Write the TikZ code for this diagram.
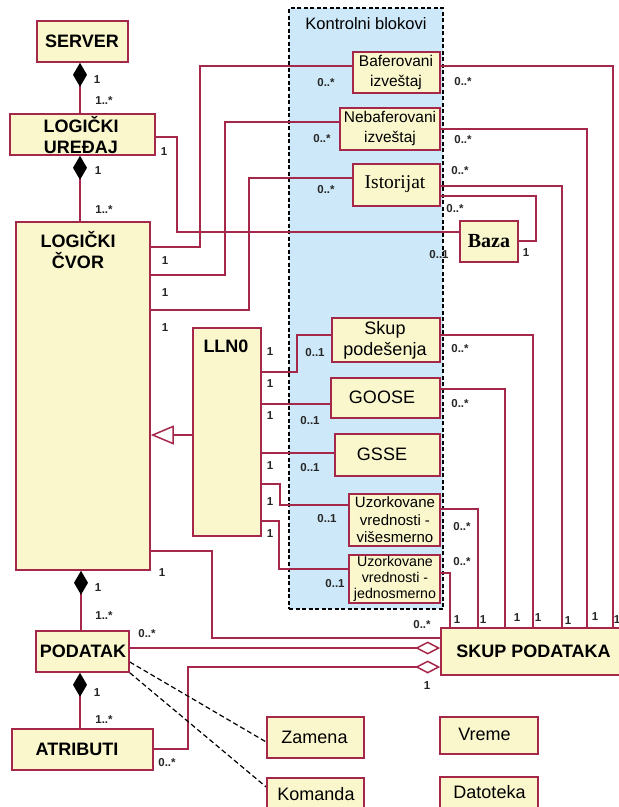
\documentclass[tikz,border=0pt]{standalone}
\usepackage{fontspec}
\setmainfont{Liberation Sans}
\newfontfamily\serifA{Liberation Serif}
\usetikzlibrary{arrows.meta,fit,backgrounds}
\definecolor{boxfill}{RGB}{250,247,205}
\definecolor{bord}{RGB}{165,40,75}
\definecolor{kbfill}{RGB}{205,232,248}
\tikzset{
  box/.style={draw=bord, fill=boxfill, line width=1.6pt, inner sep=0pt, align=center},
  kbox/.style={draw=black, fill=kbfill, line width=1.4pt, dash pattern=on 4pt off 2.5pt, inner sep=0pt},
  conn/.style={draw=bord, line width=1.5pt},
  dep/.style={draw=black, line width=1.2pt, dash pattern=on 5pt off 3pt},
  mult/.style={font=\fontsize{11.5}{12}\selectfont\bfseries, inner sep=0pt, text=black!85},
  big/.style={font=\fontsize{18}{21.5}\selectfont\bfseries},
  med/.style={font=\fontsize{18}{21}\selectfont},
  smalltxt/.style={font=\fontsize{15.5}{19.5}\selectfont},
  comp/.style={{Diamond[length=24pt,width=14pt,color=black,fill=black]}-},
  aggr/.style={-{Diamond[open,length=25pt,width=13pt,fill=white]}},
  gen/.style={-{Triangle[open,length=23pt,width=19pt,fill=white]}},
}
\begin{document}
\begin{tikzpicture}[x=1pt,y=-1pt]
\useasboundingbox (0,0) rectangle (619,807);
\clip (0,0) rectangle (619,807);
\begin{scope}[on background layer]
\fill[white] (0,0) rectangle (619,807);
\end{scope}

% ---------- boxes ----------
\node[box, big, fit={(37,21) (128,62)}] (server) {};
\node[big, inner sep=0pt] (tserver) at (82,41) {SERVER};
\node[box, fit={(10,114) (155,155)}] (ured) {};
\node[big, inner sep=0pt, align=center] (tured) at (81,135) {LOGIČKI\\UREĐAJ};
\node[box, fit={(16,222) (150,570)}] (cvor) {};
\node[big, inner sep=0pt, align=center] (tcvor) at (78,250) {LOGIČKI\\ČVOR};
\node[box, fit={(193,328) (261,536)}] (lln) {};
\node[big, inner sep=0pt] (tlln) at (226,346) {LLN0};

\begin{scope}[on background layer]
\node[kbox, fit={(289,8) (443,609)}] (kb) {};
\end{scope}
\node[font=\fontsize{16.5}{18}\selectfont, inner sep=0pt] (tkb) at (366,24) {Kontrolni blokovi};

\node[box, fit={(353,52) (440,93)}] (bafer) {};
\node[smalltxt, inner sep=0pt, align=center] (tbafer) at (396,72.5) {Baferovani\\izveštaj};
\node[box, fit={(340,108) (440,150)}] (nebafer) {};
\node[smalltxt, inner sep=0pt, align=center] (tnebafer) at (390,128.5) {Nebaferovani\\izveštaj};
\node[box, fit={(353,164) (440,206)}] (istor) {};
\node[font=\serifA\fontsize{19.5}{22}\selectfont, inner sep=0pt] (tistor) at (395,184) {Istorijat};
\node[box, fit={(460,221) (518,262)}] (baza) {};
\node[font=\serifA\fontsize{20}{22}\selectfont\bfseries, inner sep=0pt] (tbaza) at (489,241) {Baza};

\node[box, fit={(332,318) (440,362)}] (skup) {};
\node[font=\fontsize{18}{21}\selectfont, inner sep=0pt, align=center] (tskup) at (385,340) {Skup\\podešenja};
\node[box, fit={(331,378) (440,418)}] (goose) {};
\node[med, inner sep=0pt] (tgoose) at (382,397) {GOOSE};
\node[box, fit={(335,434) (440,476)}] (gsse) {};
\node[med, inner sep=0pt] (tgsse) at (382,454) {GSSE};
\node[box, fit={(349,494) (440,546)}] (uvvis) {};
\node[font=\fontsize{15}{17.5}\selectfont, inner sep=0pt, align=center] (tuvvis) at (395,520) {Uzorkovane\\vrednosti -\\višesmerno};
\node[box, fit={(349,555) (440,603)}] (uvjed) {};
\node[font=\fontsize{14.2}{16}\selectfont, inner sep=0pt, align=center] (tuvjed) at (395,579) {Uzorkovane\\vrednosti -\\jednosmerno};

\node[box, fit={(441,628) (625,675)}] (skuppod) {};
\node[big, inner sep=0pt] (tskuppod) at (533.5,651) {SKUP PODATAKA};
\node[box, fit={(36,631) (129,672)}] (podatak) {};
\node[big, inner sep=0pt] (tpodatak) at (83,651) {PODATAK};
\node[box, fit={(12,729) (153,770)}] (atrib) {};
\node[big, inner sep=0pt] (tatrib) at (77,749) {ATRIBUTI};
\node[box, fit={(267,717) (364,758)}] (zamena) {};
\node[med, inner sep=0pt] (tzamena) at (314.5,737) {Zamena};
\node[box, fit={(267,778) (364,812)}] (komanda) {};
\node[med, inner sep=0pt] (tkomanda) at (316,794) {Komanda};
\node[box, fit={(440,717) (538,754)}] (vreme) {};
\node[med, inner sep=0pt] (tvreme) at (484.5,734) {Vreme};
\node[box, fit={(440,777) (538,812)}] (datoteka) {};
\node[med, inner sep=0pt] (tdatoteka) at (489.5,792) {Datoteka};

% ---------- connectors ----------
\begin{scope}[on background layer]
\draw[conn, comp] (server.south -| 80,0) -- (ured.north -| 80,0);
\draw[conn, comp] (ured.south -| 80,0) -- (cvor.north -| 80,0);
\draw[conn, comp] (cvor.south -| 81,0) -- (podatak.north -| 81,0);
\draw[conn, comp] (podatak.south -| 80,0) -- (atrib.north -| 80,0);
\draw[conn, gen] (lln.west |- 0,435) -- (cvor.east |- 0,435);

\draw[conn] (ured.east |- 0,137) -| (177,232) -- (baza.west |- 0,232);
\draw[conn] (cvor.east |- 0,247) -| (200,66) -- (bafer.west |- 0,66);
\draw[conn] (cvor.east |- 0,275) -| (225,122) -- (nebafer.west |- 0,122);
\draw[conn] (cvor.east |- 0,310) -| (249,178) -- (istor.west |- 0,178);

\draw[conn] (lln.east |- 0,372) -| (297,335) -- (skup.west |- 0,335);
\draw[conn] (lln.east |- 0,404) -- (goose.west |- 0,404);
\draw[conn] (lln.east |- 0,453) -- (gsse.west |- 0,453);
\draw[conn] (lln.east |- 0,484) -| (280,505) -- (uvvis.west |- 0,505);
\draw[conn] (lln.east |- 0,521) -| (279,569) -- (uvjed.west |- 0,569);

\draw[conn] (cvor.east |- 0,551) -| (212,638) -- (skuppod.west |- 0,638);
\draw[conn, aggr] (podatak.east |- 0,648) -- (skuppod.west |- 0,648);
\draw[conn, aggr] (atrib.east |- 0,749) -| (188,667) -- (skuppod.west |- 0,667);

\draw[dep] (podatak.east |- 0,662) -- (zamena.west |- 0,742);
\draw[dep] (podatak.south east) -- (komanda.west |- 0,787);

\draw[conn] (bafer.east |- 0,66) -| (skuppod.north -| 613,0);
\draw[conn] (nebafer.east |- 0,129) -| (skuppod.north -| 587,0);
\draw[conn] (istor.east |- 0,186) -| (skuppod.north -| 562,0);
\draw[conn] (istor.east |- 0,196) -| (536,241) -- (baza.east |- 0,241);
\draw[conn] (skup.east |- 0,335) -| (skuppod.north -| 533,0);
\draw[conn] (goose.east |- 0,389) -| (skuppod.north -| 505,0);
\draw[conn] (uvvis.east |- 0,509) -| (skuppod.north -| 478,0);
\draw[conn] (uvjed.east |- 0,573) -| (skuppod.north -| 450,0);
\end{scope}

% ---------- multiplicities ----------
\node[mult] (m1) at (97,80) {1};
\node[mult] (m2) at (104,101) {1..*};
\node[mult] (m3) at (164,152) {1};
\node[mult] (m4) at (98,171) {1};
\node[mult] (m5) at (104,210) {1..*};
\node[mult] (m6) at (165,261) {1};
\node[mult] (m7) at (165,293) {1};
\node[mult] (m8) at (165,328) {1};
\node[mult] (m9) at (270,352) {1};
\node[mult] (m10) at (270,384) {1};
\node[mult] (m11) at (270,416) {1};
\node[mult] (m12) at (270,466) {1};
\node[mult] (m13) at (270,502) {1};
\node[mult] (m14) at (270,534) {1};
\node[mult] (m15) at (326,83) {0..*};
\node[mult] (m16) at (322,139) {0..*};
\node[mult] (m17) at (326,190) {0..*};
\node[mult] (m18) at (439,255) {0..1};
\node[mult] (m19) at (315,353) {0..1};
\node[mult] (m20) at (310,421) {0..1};
\node[mult] (m21) at (310,468) {0..1};
\node[mult] (m22) at (327,519) {0..1};
\node[mult] (m23) at (335,584) {0..1};
\node[mult] (m24) at (162,573) {1};
\node[mult] (m25) at (98,588) {1};
\node[mult] (m26) at (104,616) {1..*};
\node[mult] (m27) at (147,634) {0..*};
\node[mult] (m28) at (97,693) {1};
\node[mult] (m29) at (104,720) {1..*};
\node[mult] (m30) at (167,763) {0..*};
\node[mult] (m31) at (422,625) {0..*};
\node[mult] (m32) at (427,686) {1};
\node[mult] (m33) at (463,82) {0..*};
\node[mult] (m34) at (463,140) {0..*};
\node[mult] (m35) at (460,171) {0..*};
\node[mult] (m36) at (455,209) {0..*};
\node[mult] (m37) at (526,253) {1};
\node[mult] (m38) at (460,349) {0..*};
\node[mult] (m39) at (460,404) {0..*};
\node[mult] (m40) at (462,527) {0..*};
\node[mult] (m41) at (462,562) {0..*};
\node[mult] (m42) at (457,620) {1};
\node[mult] (m43) at (483,620) {1};
\node[mult] (m44) at (517,618) {1};
\node[mult] (m45) at (538,618) {1};
\node[mult] (m46) at (568,621) {1};
\node[mult] (m47) at (595,617) {1};
\node[mult] (m48) at (617,620) {1};
\end{tikzpicture}
\end{document}
